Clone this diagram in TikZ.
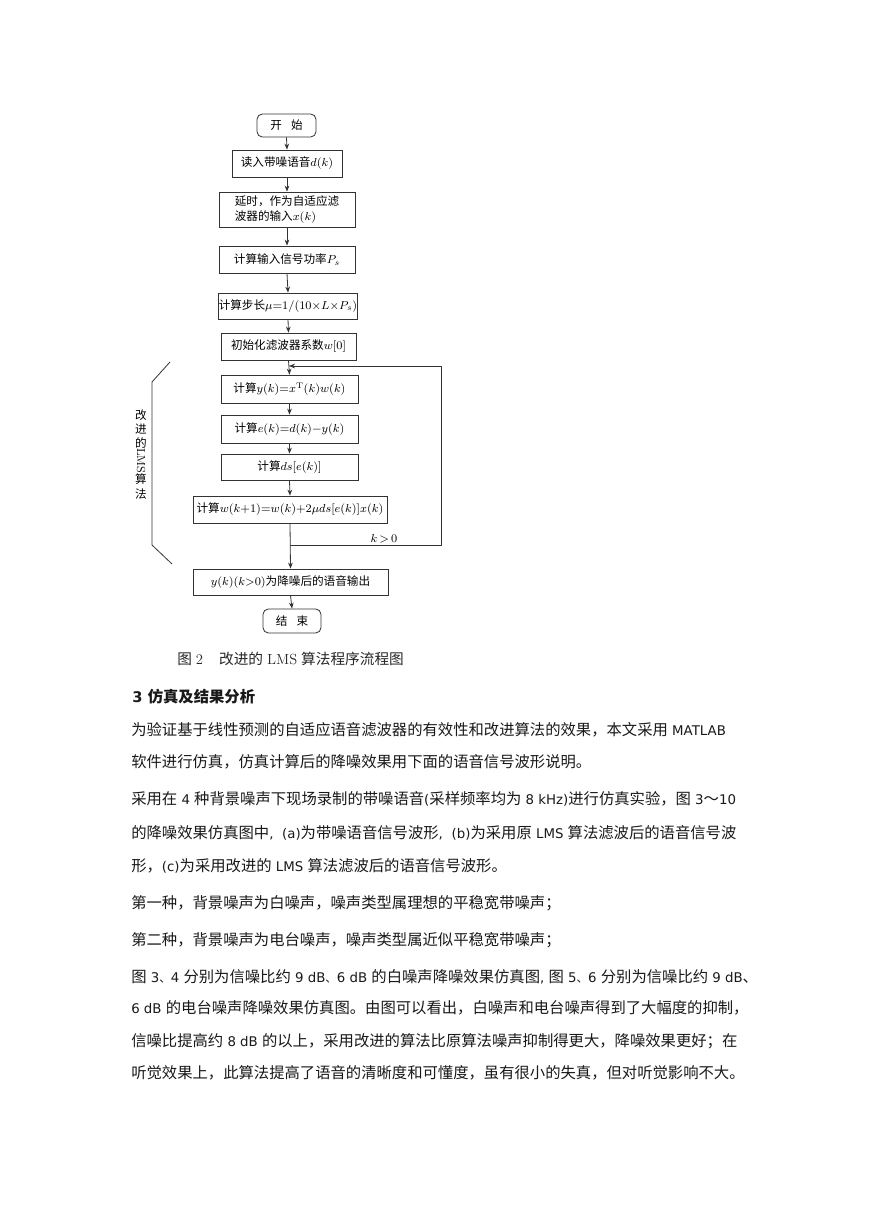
\RequirePackage{fix-cm}
\documentclass[tikz,border=0pt]{standalone}
\usepackage{fontspec}
\usepackage{graphicx}
\usetikzlibrary{arrows.meta}
\newfontfamily\cjk{Noto Sans CJK SC}
\newfontfamily\vsans{DejaVu Sans}
\newcommand\lat[1]{{\vsans\fontsize{10}{12}\selectfont #1}}
\newcommand\dun{{\fontsize{8.6}{10}\selectfont 、}}
\begin{document}
\begin{tikzpicture}[x=0.75pt,y=-0.75pt,
  fc/.style={font=\cjk\fontsize{8.7}{11}\selectfont, text=black},
  flowbox/.style={draw=black!80, line width=0.6pt, fill=white, inner sep=0pt, fc},
  roundbox/.style={flowbox, rounded corners=4pt},
  conn/.style={draw=black!80, line width=0.6pt, -{Stealth[length=4.5pt,width=3.5pt]}},
  plain/.style={draw=black!80, line width=0.6pt},
  sidech/.style={fc, inner sep=0pt},
  bodyline/.style={anchor=base west, inner sep=0pt, font=\cjk\fontsize{11.5}{14}\selectfont, text=black!90},
]
\useasboundingbox (0,0) rectangle (869,1228);
\fill[white] (0,0) rectangle (869,1228);

% flowchart boxes
\node[roundbox, minimum width=44.25pt, minimum height=17.25pt] (start) at (286.5,125.5) {开\hspace{0.8em}始};
\node[flowbox, minimum width=82.5pt, minimum height=20.25pt] (read) at (287,163.5) {读入带噪语音$d(k)$};
\node[flowbox, minimum width=102pt, minimum height=26.25pt, align=left] (delay) at (287,209.5) {延时，作为自适应滤\\波器的输入$x(k)$};
\node[flowbox, minimum width=102pt, minimum height=20.25pt] (pow) at (287,259.5) {计算输入信号功率$P_s$};
\node[flowbox, minimum width=102pt, minimum height=19.5pt] (mu) at (288,306) {计算步长$\mu{=}1/(10{\times}L{\times}P_s)$};
\node[flowbox, minimum width=101.25pt, minimum height=20.25pt] (init) at (288.5,346.5) {初始化滤波器系数$w[0]$};
\node[flowbox, minimum width=102.75pt, minimum height=21pt] (yk) at (289.5,389) {计算$y(k){=}x^{\mathrm{T}}(k)w(k)$};
\node[flowbox, minimum width=102.75pt, minimum height=21pt] (ek) at (289.5,429) {计算$e(k){=}d(k){-}y(k)$};
\node[flowbox, minimum width=102.75pt, minimum height=19.5pt] (ds) at (289.5,467) {计算$ds[e(k)]$};
\node[flowbox, minimum width=145.5pt, minimum height=20.25pt] (wk) at (290,509.5) {计算$w(k{+}1){=}w(k){+}2\mu ds[e(k)]x(k)$};
\node[flowbox, minimum width=146.25pt, minimum height=19.5pt] (out) at (290.5,582) {$y(k)(k{>}0)$为降噪后的语音输出};
\node[roundbox, minimum width=43.5pt, minimum height=18pt] (end) at (292,621) {结\hspace{0.8em}束};

% connectors
\draw[conn] (start.south) -- (read.north);
\draw[conn] (read.south) -- (delay.north);
\draw[conn] (delay.south) -- (pow.north);
\draw[conn] (pow.south) -- (mu.north);
\draw[conn] (mu.south) -- (init.north);
\draw[conn] (init.south) -- (yk.north);
\draw[conn] (yk.south) -- (ek.north);
\draw[conn] (ek.south) -- (ds.north);
\draw[conn] (ds.south) -- (wk.north);
\draw[conn] (wk.south) -- (out.north);
\draw[conn] (out.south) -- (end.north);

% loop back
\coordinate (j1) at (290,545);
\coordinate (c1) at (441,545);
\coordinate (c2) at (441,366);
\coordinate (j2) at (289,366);
\draw[conn] (j1) -- (c1) -- (c2) -- (j2);
\node[fc, anchor=base, inner sep=0pt] (kl) at (384,542) {$k\,{>}\,0$};

% bracket and side label
\coordinate (b1) at (170,362);
\coordinate (b2) at (152,382);
\coordinate (b3) at (152,545);
\coordinate (b4) at (172,564);
\draw[plain] (b1) -- (b2) -- (b3) -- (b4);
\node[sidech] (s1) at (141,415) {改};
\node[sidech] (s2) at (141,429) {进};
\node[sidech] (s3) at (141,443) {的};
\node[sidech, rotate=-90, font=\rmfamily\fontsize{8.7}{11}\selectfont] (s4) at (141,461) {LMS};
\node[sidech] (s5) at (141,479) {算};
\node[sidech] (s6) at (141,494) {法};

% caption
\node[anchor=base west, inner sep=0pt, font=\cjk\fontsize{11}{13}\selectfont, text=black!85] (cap) at (177,664)
  {图\hspace{3pt}{\rmfamily 2}\hspace{12pt}改进的\hspace{3pt}{\rmfamily LMS}\hspace{3pt}算法程序流程图};

% body text
\node[bodyline, font=\cjk\bfseries\fontsize{11.5}{14}\selectfont] (h) at (132,702) {{\vsans\bfseries\fontsize{11}{13}\selectfont 3}\hspace{4pt}仿真及结果分析};
\node[bodyline] (l1) at (131,735) {为验证基于线性预测的自适应语音滤波器的有效性和改进算法的效果，本文采用\lat{ MATLAB}};
\node[bodyline] (l2) at (131,767) {软件进行仿真，仿真计算后的降噪效果用下面的语音信号波形说明。};
\node[bodyline] (l3) at (131,804) {采用在\lat{ 4 }种背景噪声下现场录制的带噪语音\lat{(}采样频率均为\lat{ 8 kHz)}进行仿真实验，图\lat{ 3}～\lat{10}};
\node[bodyline] (l4) at (131,838) {的降噪效果仿真图中\lat{,}\hspace{6.5pt}\lat{(a)}为带噪语音信号波形\lat{,}\hspace{6.5pt}\lat{(b)}为采用原\lat{ LMS }算法滤波后的语音信号波};
\node[bodyline] (l5) at (131,871) {形，\lat{(c)}为采用改进的\lat{ LMS }算法滤波后的语音信号波形。};
\node[bodyline] (l6) at (131,908) {第一种，背景噪声为白噪声，噪声类型属理想的平稳宽带噪声；};
\node[bodyline] (l7) at (131,945) {第二种，背景噪声为电台噪声，噪声类型属近似平稳宽带噪声；};
\node[bodyline] (l8) at (131,982) {图\lat{ 3}\dun\lat{4 }分别为信噪比约\lat{ 9 dB}\dun\lat{6 dB }的白噪声降噪效果仿真图\lat{, }图\lat{ 5}\dun\lat{6 }分别为信噪比约\lat{ 9 dB}、};
\node[bodyline] (l9) at (131,1013) {\lat{6 dB }的电台噪声降噪效果仿真图。由图可以看出，白噪声和电台噪声得到了大幅度的抑制，};
\node[bodyline] (l10) at (131,1046) {信噪比提高约\lat{ 8 dB }的以上，采用改进的算法比原算法噪声抑制得更大，降噪效果更好；在};
\node[bodyline] (l11) at (131,1078) {听觉效果上，此算法提高了语音的清晰度和可懂度，虽有很小的失真，但对听觉影响不大。};
\end{tikzpicture}
\end{document}
